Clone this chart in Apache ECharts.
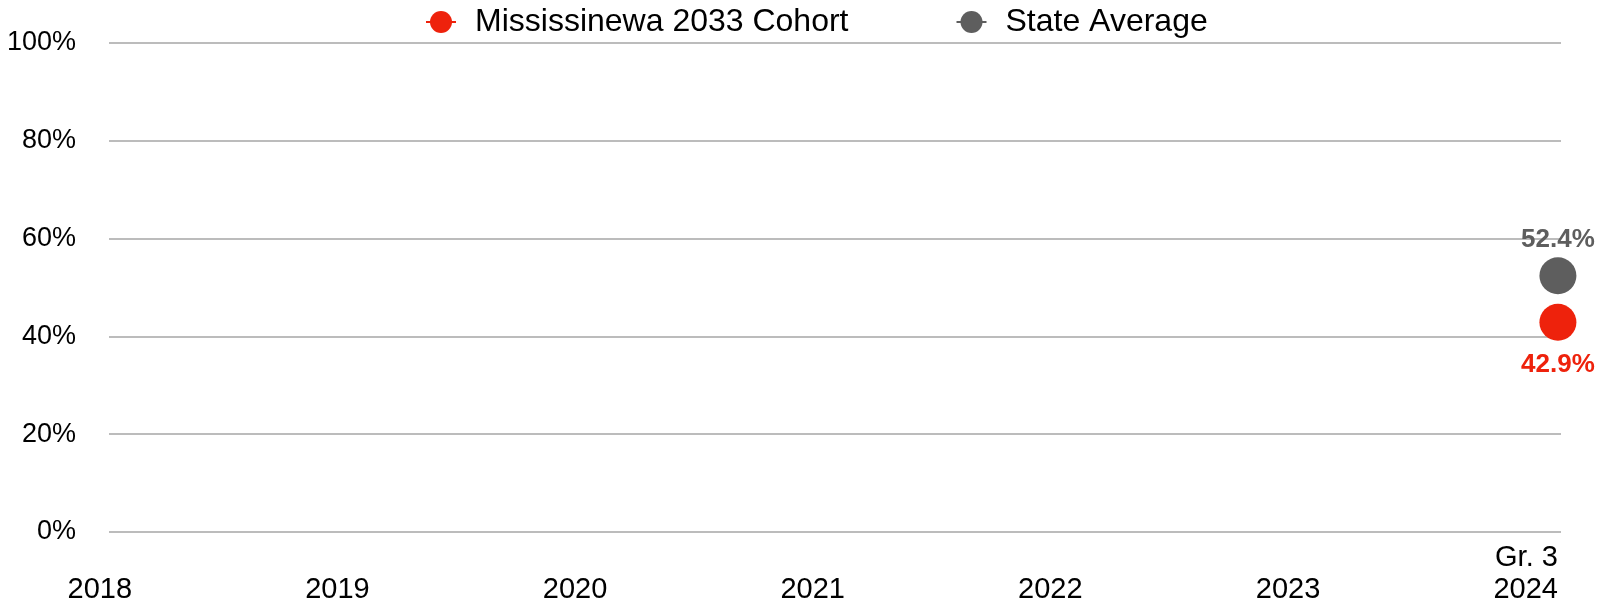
<!DOCTYPE html>
<html>
<head>
<meta charset="utf-8">
<script src="https://cdn.jsdelivr.net/npm/echarts@6/dist/echarts.min.js"></script>
<style>
  html, body { margin: 0; padding: 0; background: #ffffff; }
  #chart { width: 1617px; height: 603px; }
</style>
</head>
<body>
<div id="chart"></div>
<script>
// ---- Data ----
const years = [2018, 2019, 2020, 2021, 2022, 2023, 2024];
const gradeLabels = { 2024: 'Gr. 3' };
const cohortName = 'Mississinewa 2033 Cohort';
const stateName = 'State Average';
const cohortValues = [null, null, null, null, null, null, 42.9];
const stateValues = [null, null, null, null, null, null, 52.4];
const yTicks = [0, 20, 40, 60, 80, 100];

// ---- Styles ----
const FONT = '"Liberation Sans", Helvetica, Arial, sans-serif';
const RED = '#ee220c';
const GRAY = '#5e5e5e';

function pairs(values) {
  const out = [];
  years.forEach((y, i) => { if (values[i] !== null) out.push([y, values[i]]); });
  return out;
}

const chart = echarts.init(document.getElementById('chart'), null, { renderer: 'canvas' });

chart.setOption({
  animation: false,
  backgroundColor: '#ffffff',
  textStyle: { fontFamily: FONT },
  legend: {
    left: 420,
    top: 1,
    itemWidth: 30,
    itemHeight: 27.5,
    itemGap: 107,
    textStyle: { fontFamily: FONT, fontSize: 32, color: '#000', padding: [0, 0, 0, 14] },
    data: [cohortName, stateName]
  },
  grid: { left: 109, right: 56, top: 43, bottom: 71, containLabel: false, outerBoundsMode: 'none' },
  xAxis: {
    type: 'value',
    min: 2017.903,
    max: 2024.013,
    splitNumber: 6,
    axisLine: { show: false },
    axisTick: { show: false },
    splitLine: { show: false },
    axisLabel: {
      fontFamily: FONT,
      fontSize: 29,
      color: '#000',
      align: 'right',
      verticalAlign: 'bottom',
      lineHeight: 32,
      margin: 74,
      formatter: function (v) {
        if (!Number.isInteger(v) || years.indexOf(v) < 0) return '';
        return gradeLabels[v] ? gradeLabels[v] + '\n' + v : String(v);
      }
    }
  },
  yAxis: {
    type: 'value',
    min: yTicks[0],
    max: yTicks[yTicks.length - 1],
    interval: yTicks[1] - yTicks[0],
    axisLine: { show: false },
    axisTick: { show: false },
    splitLine: { lineStyle: { color: '#bcbcbc', width: 2 } },
    axisLabel: {
      fontFamily: FONT,
      fontSize: 27,
      color: '#000',
      margin: 33,
      formatter: '{value}%'
    }
  },
  series: [
    {
      name: cohortName,
      type: 'line',
      data: pairs(cohortValues),
      symbol: 'circle',
      symbolSize: 37,
      itemStyle: { color: RED },
      lineStyle: { color: RED, width: 3 },
      label: {
        show: true,
        position: 'bottom',
        distance: 11,
        color: RED,
        fontFamily: FONT,
        fontSize: 26,
        fontWeight: 'bold',
        formatter: p => p.value[1].toFixed(1) + '%'
      },
      emphasis: { disabled: true },
      z: 3
    },
    {
      name: stateName,
      type: 'line',
      data: pairs(stateValues),
      symbol: 'circle',
      symbolSize: 37,
      itemStyle: { color: GRAY },
      lineStyle: { color: GRAY, width: 3 },
      label: {
        show: true,
        position: 'top',
        distance: 4,
        color: GRAY,
        fontFamily: FONT,
        fontSize: 26,
        fontWeight: 'bold',
        formatter: p => p.value[1].toFixed(1) + '%'
      },
      emphasis: { disabled: true },
      z: 3
    }
  ]
});
</script>
</body>
</html>
